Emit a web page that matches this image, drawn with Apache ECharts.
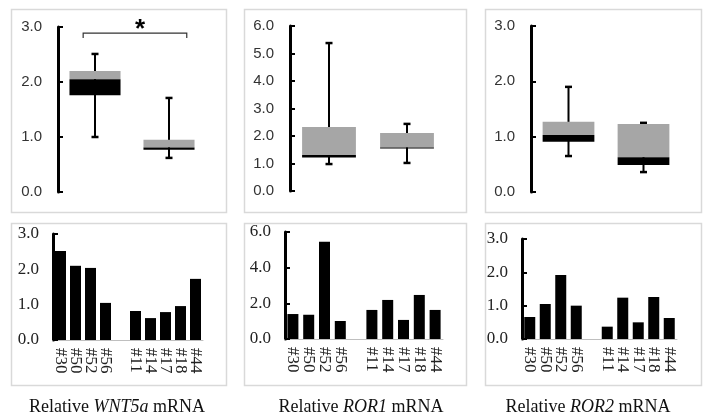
<!DOCTYPE html>
<html>
<head>
<meta charset="utf-8">
<script src="https://cdn.jsdelivr.net/npm/echarts@6/dist/echarts.min.js"></script>
<style>html,body{margin:0;padding:0;background:#fff}#c{width:709px;height:420px}</style>
</head>
<body>
<div id="c"></div>
<script>
// ---- data ----
const boxGroups = ['A', 'B'];
// [min, q1, median, q3, max]
const wnt5aBox = [[1.0, 1.76, 2.05, 2.2, 2.51], [0.62, 0.77, 0.81, 0.95, 1.71]];
const ror1Box = [[0.98, 1.22, 1.31, 2.33, 5.38], [1.02, 1.55, 1.58, 2.11, 2.44]];
const ror2Box = [[0.65, 0.91, 1.03, 1.27, 1.9], [0.36, 0.49, 0.63, 1.23, 1.25]];
const samples = ['#30', '#50', '#52', '#56', '', '#11', '#14', '#17', '#18', '#44'];
const wnt5aBars = [2.52, 2.1, 2.04, 1.05, null, 0.82, 0.62, 0.79, 0.96, 1.73];
const ror1Bars = [1.4, 1.36, 5.45, 1.01, null, 1.63, 2.19, 1.07, 2.47, 1.63];
const ror2Bars = [0.66, 1.05, 1.92, 1.0, null, 0.37, 1.24, 0.5, 1.26, 0.63];
const topMax = [3, 6, 3];
const bottomMax = [3, 6, 3];
const bottomInterval = [1, 2, 1];
const sigBracket = [2.89, 2.8]; // bracket height, end tick height
const captionGene = ['WNT5a', 'ROR1', 'ROR2'];

const chart = echarts.init(document.getElementById('c'), null, {renderer: 'canvas'});

const topGrids = [
  {left: 58, top: 27, width: 148, height: 165},
  {left: 290, top: 26, width: 156, height: 165},
  {left: 531, top: 26, width: 150, height: 166}
];
const botGrids = [
  {left: 53, top: 234, width: 150, height: 106},
  {left: 285, top: 232, width: 158, height: 107},
  {left: 522, top: 239, width: 155, height: 100}
];

const grids = [], xAxes = [], yAxes = [], series = [];

function yAx(gi, max, interval, font, size, color, margin, lw) {
  return {
    gridIndex: gi, type: 'value', min: 0, max: max, interval: interval,
    splitLine: {show: false},
    axisLine: {show: true, lineStyle: {color: '#000', width: lw}},
    axisTick: {show: true, inside: true, length: 5, lineStyle: {color: '#000', width: 2}},
    axisLabel: {fontFamily: font, fontSize: size, color: color, margin: margin,
      formatter: v => v.toFixed(1)}
  };
}

function renderBox(params, api) {
  const i = api.value(0);
  const mn = api.value(1), q1 = api.value(2), md = api.value(3), q3 = api.value(4), mx = api.value(5);
  const pMin = api.coord([i, mn]), pQ1 = api.coord([i, q1]), pMd = api.coord([i, md]),
        pQ3 = api.coord([i, q3]), pMax = api.coord([i, mx]);
  const band = api.size([1, 0])[0];
  const bw = band * 0.69;
  const cw = 7;
  const x = pMin[0];
  return {
    type: 'group',
    children: [
      {type: 'line', shape: {x1: x, y1: pMin[1], x2: x, y2: pMax[1]}, style: {stroke: '#000', lineWidth: 2}},
      {type: 'line', shape: {x1: x - cw / 2, y1: pMin[1], x2: x + cw / 2, y2: pMin[1]}, style: {stroke: '#000', lineWidth: 2.5}},
      {type: 'line', shape: {x1: x - cw / 2, y1: pMax[1], x2: x + cw / 2, y2: pMax[1]}, style: {stroke: '#000', lineWidth: 2.5}},
      {type: 'rect', shape: {x: x - bw / 2, y: pQ3[1], width: bw, height: pMd[1] - pQ3[1]}, style: {fill: '#a6a6a6'}},
      {type: 'rect', shape: {x: x - bw / 2, y: pMd[1], width: bw, height: pQ1[1] - pMd[1]}, style: {fill: '#000'}}
    ]
  };
}

function renderBracket(params, api) {
  const h = api.value(0), t = api.value(1);
  const band = api.size([1, 0])[0];
  const a = api.coord([0, h]), b = api.coord([1, h]);
  const ta = api.coord([0, t]);
  const x1 = a[0] - band * 0.16, x2 = b[0] + band * 0.24;
  return {
    type: 'group',
    children: [
      {type: 'polyline', shape: {points: [[x1, ta[1]], [x1, a[1]], [x2, a[1]], [x2, ta[1]]]},
        style: {stroke: '#333', lineWidth: 1.2, fill: null}},
      {type: 'text', x: (x1 + x2) / 2 + 5, y: a[1] - 3,
        style: {text: '*', fontFamily: 'Liberation Sans', fontWeight: 'bold', fontSize: 26,
          fill: '#000', align: 'center', verticalAlign: 'middle'}}
    ]
  };
}

const boxes = [wnt5aBox, ror1Box, ror2Box];
const bars = [wnt5aBars, ror1Bars, ror2Bars];

for (let k = 0; k < 3; k++) {
  grids.push(topGrids[k]);
  const gi = grids.length - 1;
  xAxes.push({gridIndex: gi, type: 'category', data: boxGroups, boundaryGap: true,
    axisLine: {show: false}, axisTick: {show: false}, axisLabel: {show: false}});
  yAxes.push(yAx(gi, topMax[k], 1, 'Liberation Sans', 15, '#333', 16, 3));
  series.push({type: 'custom', xAxisIndex: gi, yAxisIndex: gi, renderItem: renderBox,
    data: boxes[k].map((b, i) => [i].concat(b)), silent: true});
  if (k === 0) {
    series.push({type: 'custom', xAxisIndex: gi, yAxisIndex: gi, renderItem: renderBracket,
      data: [sigBracket], silent: true, clip: false});
  }
}
for (let k = 0; k < 3; k++) {
  grids.push(botGrids[k]);
  const gi = grids.length - 1;
  xAxes.push({gridIndex: gi, type: 'category', data: samples, boundaryGap: true,
    axisLine: {show: true, lineStyle: {color: '#bfbfbf', width: 1}}, axisTick: {show: false},
    axisLabel: {rotate: -90, interval: 0, fontFamily: 'Liberation Serif', fontSize: 17, color: '#222', margin: 8}});
  yAxes.push(yAx(gi, bottomMax[k], bottomInterval[k], 'Liberation Serif', 17, '#222', 14, 3));
  series.push({type: 'bar', xAxisIndex: gi, yAxisIndex: gi, data: bars[k], barWidth: 11,
    itemStyle: {color: '#000'}, silent: true});
}

const frames = [
  {x: 9, y: 7, w: 215, h: 203}, {x: 242, y: 7, w: 222, h: 203}, {x: 483, y: 7, w: 216, h: 203},
  {x: 9, y: 221, w: 215, h: 162}, {x: 242, y: 221, w: 222, h: 162}, {x: 483, y: 221, w: 216, h: 162}
];
const capX = [117, 361, 588];
const graphic = frames.map(f => ({type: 'rect', left: f.x, top: f.y, z: -10,
  shape: {width: f.w, height: f.h}, style: {fill: null, stroke: '#d9d9d9', lineWidth: 1.5}}));
captionGene.forEach((g, i) => {
  graphic.push({type: 'text', x: capX[i], y: 407,
    style: {text: '{n|Relative }{i|' + g + '}{n| mRNA}', align: 'center', verticalAlign: 'middle',
      rich: {
        n: {fontFamily: 'Liberation Serif', fontSize: 18, fill: '#111', color: '#111'},
        i: {fontFamily: 'Liberation Serif', fontSize: 18, fontStyle: 'italic', fill: '#111', color: '#111'}
      }}});
});

chart.setOption({
  animation: false,
  backgroundColor: '#fff',
  grid: grids,
  xAxis: xAxes,
  yAxis: yAxes,
  series: series,
  graphic: graphic
});
</script>
</body>
</html>
